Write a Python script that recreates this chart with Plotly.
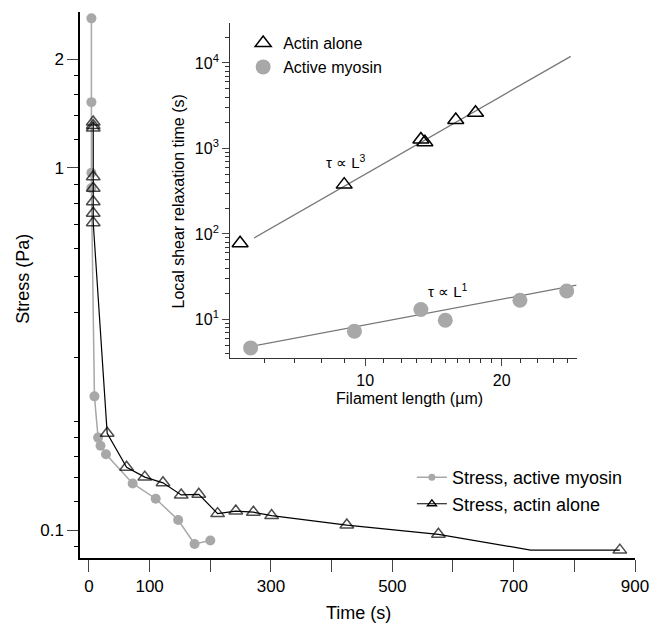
import plotly.graph_objects as go

# ---------------- main plot data ----------------
myosin_time = [4, 4, 4, 4, 9, 15, 19, 28, 72, 110, 147, 174, 200]
myosin_stress = [2.59, 1.52, 0.97, 0.88, 0.234, 0.180, 0.171, 0.162, 0.1345, 0.122, 0.1066, 0.0915, 0.0935]

actin_time = [7, 7, 7, 7, 7, 7, 7, 7, 30, 62, 92, 122, 152, 181, 212, 242, 271, 301, 425, 576, 728, 875]
actin_stress = [1.34, 1.31, 1.29, 0.946, 0.879, 0.807, 0.75, 0.706, 0.185, 0.149, 0.140, 0.135,
                0.125, 0.1255, 0.111, 0.1128, 0.112, 0.1096, 0.1032, 0.0973, 0.088, 0.088]
actin_marker_shown = [1] * 20 + [0, 1]

# ---------------- inset data ----------------
inset_actin_len = [5.30, 8.99, 13.27, 13.54, 15.84, 17.51, 29.37]
inset_actin_tau = [78, 378, 1275, 1185, 2150, 2620, 13670]
inset_myosin_len = [5.59, 9.47, 13.27, 15.02, 21.94, 27.82]
inset_myosin_tau = [4.65, 7.3, 13.1, 9.8, 16.8, 21.5]
fit_actin_len = [5.69, 28.4]
fit_actin_tau = [89.7, 11970]
fit_myosin_len = [5.44, 29.25]
fit_myosin_tau = [4.70, 25.2]

# tick labels
main_x_ticks = [0, 100, 200, 300, 400, 500, 600, 700, 800, 900]
main_x_labels = ["0", "100", "", "300", "", "500", "", "700", "", "900"]
main_y_ticks = [0.1, 1, 2]
main_y_labels = ["0.1", "1", "2"]
main_y_minor = [0.09, 0.12, 0.14, 0.16, 0.18, 0.2, 0.3, 0.4, 0.5, 0.6, 0.7, 0.8, 0.9,
                1.2, 1.4, 1.6, 1.8]
inset_x_ticks = [10, 20]
inset_x_labels = ["10", "20"]
inset_x_minor = [6, 7, 8, 9, 11, 12, 13, 14, 15, 16, 17, 18, 19, 22, 24, 26, 28]
inset_y_ticks = [10, 100, 1000, 10000]
inset_y_labels = ["10<sup>1</sup>", "10<sup>2</sup>", "10<sup>3</sup>", "10<sup>4</sup>"]
inset_y_minor = [4, 5, 6, 7, 8, 9, 20, 30, 40, 50, 60, 70, 80, 90,
                 200, 300, 400, 500, 600, 700, 800, 900,
                 2000, 3000, 4000, 5000, 6000, 7000, 8000, 9000, 20000]

GRAY = "#a8a8a8"
FONT = "Liberation Sans, Arial, Helvetica, sans-serif"

fig = go.Figure()

# main traces
fig.add_trace(go.Scatter(
    x=myosin_time, y=myosin_stress, mode="lines+markers",
    line=dict(color=GRAY, width=1.5),
    marker=dict(color=GRAY, size=10, symbol="circle"),
    showlegend=False, xaxis="x", yaxis="y"))
fig.add_trace(go.Scatter(
    x=actin_time, y=actin_stress, mode="lines+markers",
    line=dict(color="black", width=1.2),
    marker=dict(color="black", size=[12 * s for s in actin_marker_shown],
                symbol="triangle-up-open", line=dict(width=1.5, color="black")),
    showlegend=False, xaxis="x", yaxis="y", cliponaxis=False))

# main legend entries
fig.add_trace(go.Scatter(
    x=[None], y=[None], mode="lines+markers", name="Stress, active myosin",
    line=dict(color=GRAY, width=1.5), marker=dict(color=GRAY, size=7),
    legend="legend"))
fig.add_trace(go.Scatter(
    x=[None], y=[None], mode="lines+markers", name="Stress, actin alone",
    line=dict(color="black", width=1.2),
    marker=dict(color="black", size=8, symbol="triangle-up-open", line=dict(width=1.3)),
    legend="legend"))

# inset traces
fig.add_trace(go.Scatter(
    x=fit_actin_len, y=fit_actin_tau, mode="lines",
    line=dict(color="#777777", width=1.3), showlegend=False, xaxis="x2", yaxis="y2"))
fig.add_trace(go.Scatter(
    x=fit_myosin_len, y=fit_myosin_tau, mode="lines",
    line=dict(color="#777777", width=1.3), showlegend=False, xaxis="x2", yaxis="y2"))
fig.add_trace(go.Scatter(
    x=inset_myosin_len, y=inset_myosin_tau, mode="markers", name="Active myosin",
    marker=dict(color=GRAY, size=15), xaxis="x2", yaxis="y2", cliponaxis=False,
    legend="legend2", legendrank=2))
fig.add_trace(go.Scatter(
    x=inset_actin_len, y=inset_actin_tau, mode="markers", name="Actin alone",
    marker=dict(color="black", size=14, symbol="triangle-up-open", line=dict(width=1.5, color="black")),
    xaxis="x2", yaxis="y2", cliponaxis=False, legend="legend2", legendrank=1))

axis_common = dict(showgrid=False, zeroline=False, showline=True, ticks="outside")

fig.update_layout(
    width=661, height=625,
    margin=dict(l=80, r=23, t=12, b=67),
    paper_bgcolor="white", plot_bgcolor="white",
    font=dict(family=FONT, size=17, color="black"),
    xaxis=dict(**axis_common, range=[-14.8, 900], tickmode="array",
               tickvals=main_x_ticks, ticktext=main_x_labels,
               ticklen=12, tickwidth=1.3, linecolor="black", linewidth=1.5,
               tickfont=dict(size=17)),
    yaxis=dict(**axis_common, type="log", range=[-1.0773, 0.4309], tickmode="array",
               tickvals=main_y_ticks, ticktext=main_y_labels,
               ticklen=11, tickwidth=1.3, linecolor="black", linewidth=1.5,
               tickfont=dict(size=17),
               minor=dict(tickmode="array", tickvals=main_y_minor, ticks="outside",
                          ticklen=4, tickwidth=1.2, tickcolor="black")),
    xaxis2=dict(**axis_common, type="log", range=[0.7024, 1.4662], domain=[0.2706, 0.8948],
                anchor="y2", tickmode="array", tickvals=inset_x_ticks, ticktext=inset_x_labels,
                ticklen=7, tickwidth=1, linecolor="#333333", linewidth=1.2,
                tickfont=dict(size=16),
                minor=dict(tickmode="array", tickvals=inset_x_minor, ticks="outside",
                           ticklen=4, tickwidth=1, tickcolor="#333333")),
    yaxis2=dict(**axis_common, type="log", range=[0.5462, 4.4643], domain=[0.3658, 0.9793],
                anchor="x2", tickmode="array", tickvals=inset_y_ticks, ticktext=inset_y_labels,
                ticklen=7, tickwidth=1, linecolor="#333333", linewidth=1.2,
                tickfont=dict(size=16),
                minor=dict(tickmode="array", tickvals=inset_y_minor, ticks="outside",
                           ticklen=4, tickwidth=1, tickcolor="#333333")),
    legend=dict(x=0.598, y=0.181, xanchor="left", yanchor="top",
                bgcolor="rgba(0,0,0,0)", font=dict(size=18), tracegroupgap=0),
    legend2=dict(x=0.294, y=0.974, xanchor="left", yanchor="top",
                 bgcolor="rgba(0,0,0,0)", font=dict(size=16), tracegroupgap=0),
    annotations=[
        dict(text="Time (s)", x=0.5018, y=-0.1007, xref="paper", yref="paper",
             showarrow=False, font=dict(size=18), xanchor="center", yanchor="middle"),
        dict(text="Stress (Pa)", x=-0.103, y=0.511, xref="paper", yref="paper",
             showarrow=False, font=dict(size=18), textangle=-90,
             xanchor="center", yanchor="middle"),
        dict(text="Local shear relaxation time (s)", x=0.1774, y=0.6538, xref="paper",
             yref="paper", showarrow=False, font=dict(size=16), textangle=-90,
             xanchor="center", yanchor="middle"),
        dict(text="Filament length (µm)", x=0.5944, y=0.293, xref="paper", yref="paper",
             showarrow=False, font=dict(size=16), xanchor="center", yanchor="middle"),
        dict(text="τ ∝ L<sup>3</sup>", x=0.479, y=0.7258, xref="paper", yref="paper",
             showarrow=False, font=dict(size=15), xanchor="center", yanchor="middle"),
        dict(text="τ ∝ L<sup>1</sup>", x=0.6631, y=0.4896, xref="paper", yref="paper",
             showarrow=False, font=dict(size=15), xanchor="center", yanchor="middle"),
    ],
)

fig.write_html("out.html", config={"displayModeBar": False},
               post_script="document.body.style.margin='0';")
